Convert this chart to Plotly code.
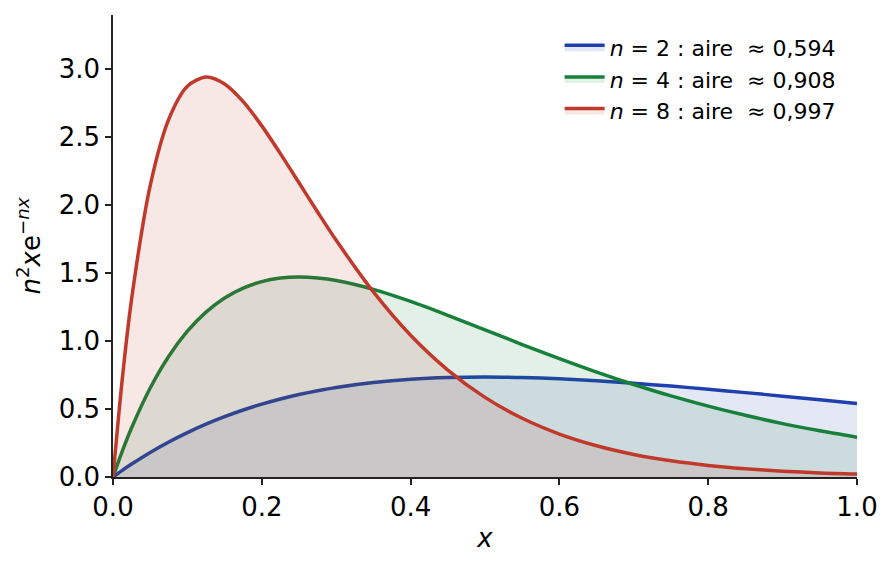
import plotly.graph_objects as go

# valeurs
x_vals = [0, 0.0125, 0.025, 0.05, 0.075, 0.1, 0.125, 0.15, 0.175, 0.2, 0.225, 0.25, 0.275,
          0.3, 0.35, 0.4, 0.45, 0.5, 0.55, 0.6, 0.65, 0.7, 0.75, 0.8, 0.85, 0.9, 0.95, 1.0]
y_n2 = [0, 0.049, 0.095, 0.181, 0.258, 0.327, 0.389, 0.444, 0.493, 0.536, 0.574, 0.607,
        0.635, 0.659, 0.695, 0.719, 0.732, 0.736, 0.732, 0.723, 0.709, 0.690, 0.669,
        0.646, 0.621, 0.595, 0.568, 0.541]
y_n4 = [0, 0.190, 0.362, 0.655, 0.889, 1.073, 1.213, 1.317, 1.390, 1.438, 1.464, 1.472,
        1.465, 1.446, 1.381, 1.292, 1.190, 1.083, 0.975, 0.871, 0.772, 0.681, 0.597,
        0.522, 0.454, 0.393, 0.340, 0.293]
y_n8 = [0, 0.724, 1.310, 2.145, 2.634, 2.876, 2.943, 2.892, 2.762, 2.584, 2.380, 2.165,
        1.950, 1.742, 1.362, 1.043, 0.787, 0.586, 0.432, 0.316, 0.230, 0.166, 0.119,
        0.085, 0.061, 0.043, 0.030, 0.022]
names = ["<i>n</i> = 2 : aire  ≈ 0,594",
         "<i>n</i> = 4 : aire  ≈ 0,908",
         "<i>n</i> = 8 : aire  ≈ 0,997"]

series = [
    (y_n2, "#1f3fae", "rgba(31,63,174,0.12)"),
    (y_n4, "#17803a", "rgba(23,128,58,0.12)"),
    (y_n8, "#c0392b", "rgba(192,57,43,0.12)"),
]

fig = go.Figure()
for (ys, col, fcol), nm in zip(series, names):
    fig.add_trace(go.Scatter(
        x=x_vals, y=ys, name=nm, mode="lines",
        line=dict(color=col, width=3.5, shape="spline", smoothing=0.8),
        fill="tozeroy", fillcolor=fcol,
    ))

axis_common = dict(
    showgrid=False, zeroline=False, showline=True, linecolor="#222", linewidth=1.6,
    ticks="outside", ticklen=6, tickwidth=1.5, tickcolor="#222",
    tickfont=dict(size=26, color="black"), tickformat=".1f", mirror=False,
)

# la page ajoute 8 px de marge autour du graphique
fig.update_layout(
    width=893, height=569,
    margin=dict(l=105, r=44, t=7, b=100),
    paper_bgcolor="white", plot_bgcolor="white",
    font=dict(family="DejaVu Sans", color="black"),
    xaxis=dict(range=[0, 1], dtick=0.2,
               title=dict(text="<i>x</i>", font=dict(size=26), standoff=8),
               **axis_common),
    yaxis=dict(range=[0, 3.4], dtick=0.5,
               title=dict(text="<i>n</i><sup>2</sup><i>x</i>e<sup>−<i>nx</i></sup>",
                          font=dict(size=26), standoff=11),
               **axis_common),
    legend=dict(x=0.978, y=0.975, xanchor="right", yanchor="top",
                font=dict(size=22), bgcolor="rgba(255,255,255,0)",
                tracegroupgap=0, itemwidth=40),
)

fig.write_html("out.html")
